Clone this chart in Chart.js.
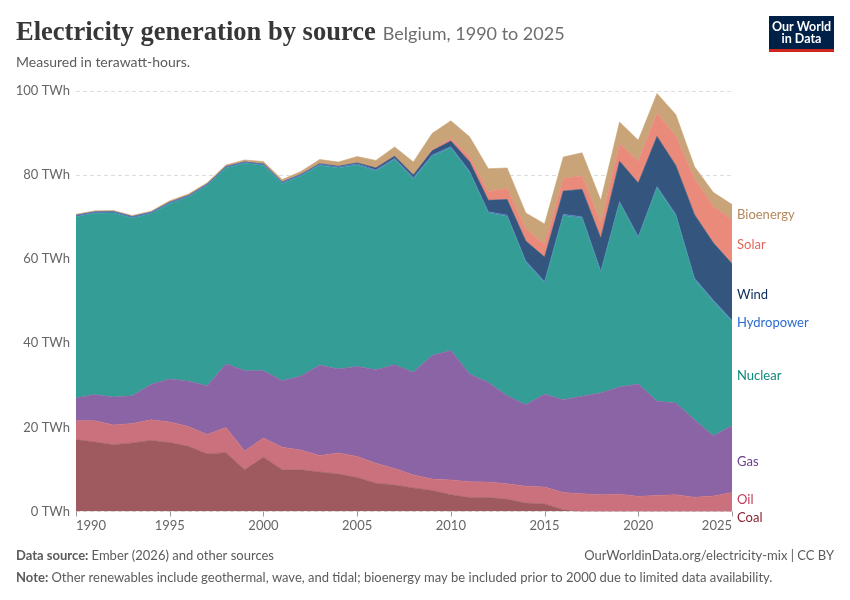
<!DOCTYPE html>
<html><head><meta charset="utf-8">
<script src="https://cdn.jsdelivr.net/npm/chart.js@4.4.1/dist/chart.umd.min.js"></script>
<style>html,body{margin:0;padding:0;background:#fff;}</style>
</head><body>
<canvas id="c" width="850" height="600"></canvas>
<script>
const years = [1990,1991,1992,1993,1994,1995,1996,1997,1998,1999,2000,2001,2002,2003,2004,2005,2006,2007,2008,2009,2010,2011,2012,2013,2014,2015,2016,2017,2018,2019,2020,2021,2022,2023,2024,2025];
const coal = [17.1,16.5,15.9,16.3,16.9,16.4,15.5,13.7,14.0,9.9, 12.9,9.9,9.9,9.4,8.9,8.1,6.7,6.3,5.6,5.0, 4.0,3.3,3.3,2.9,2.0,1.8,0.4,0,0,0, 0,0,0,0,0,0];
const oil = [4.5,5.1,4.7,4.6,4.9,4.9,4.7,4.6,6.0,4.5, 4.6,5.4,4.7,3.9,5.0,5.0,4.8,3.9,3.1,2.7, 3.5,3.8,3.7,3.7,4.0,4.0,4.1,4.2,4.0,4.1, 3.6,3.8,4.0,3.4,3.7,4.5];
const gas = [5.4,6.2,6.6,6.6,8.4,10.2,10.8,11.6,15.1,19.1, 16.0,15.8,17.6,21.5,20.0,21.4,22.2,24.7,24.4,29.4, 30.8,25.6,23.7,20.9,19.4,22.1,22.1,23.2,24.2,25.5, 26.7,22.4,21.8,18.4,14.3,15.9];
const nuclear = [43.1,43.1,43.8,42.3,40.6,41.7,43.8,47.6,46.6,49.3, 48.8,46.9,47.6,47.5,47.8,47.9,47.3,48.8,46.0,47.4, 48.2,47.9,40.3,42.7,33.9,26.5,43.8,42.4,28.7,43.8, 34.8,50.8,44.6,33.4,32.0,24.8];
const hydropower = [0.3,0.3,0.3,0.3,0.3,0.3,0.3,0.3,0.3,0.3, 0.3,0.3,0.3,0.3,0.3,0.3,0.3,0.3,0.3,0.3, 0.3,0.3,0.3,0.3,0.3,0.3,0.3,0.3,0.3,0.3, 0.3,0.3,0.3,0.3,0.3,0.3];
const wind = [0,0,0,0,0,0,0,0,0,0, 0.02,0.03,0.05,0.1,0.1,0.2,0.4,0.5,0.6,1.0, 1.3,2.3,2.7,3.7,4.7,5.8,5.5,6.5,7.8,9.6, 12.7,11.9,11.6,15.1,13.6,13.4];
const solar = [0,0,0,0,0,0,0,0,0,0, 0,0,0,0,0,0,0,0,0.04,0.2, 0.6,1.2,2.1,2.6,2.9,3.0,3.0,3.2,3.6,4.1, 5.2,5.5,7.0,8.5,8.7,10.4];
const bioenergy = [0.3,0.3,0.3,0.3,0.3,0.4,0.4,0.4,0.4,0.5, 0.6,0.6,0.7,1.0,1.0,1.5,1.8,2.2,3.1,3.9, 4.2,4.7,5.4,4.9,3.8,4.9,5.1,5.5,5.4,5.2, 5.0,4.7,5.1,2.9,3.3,3.7];
const yTicks = [0,20,40,60,80,100];
const xTicks = [1990,1995,2000,2005,2010,2015,2020,2025];

const series = [
  {name:'Coal', values:coal, fill:'#9e5a5f', text:'#8a2232'},
  {name:'Oil', values:oil, fill:'#cb717e', text:'#c23d5a'},
  {name:'Gas', values:gas, fill:'#8a64a5', text:'#6b3d8e'},
  {name:'Nuclear', values:nuclear, fill:'#349e96', text:'#0f8a7d'},
  {name:'Hydropower', values:hydropower, fill:'#4f77c2', text:'#2c6bcf'},
  {name:'Wind', values:wind, fill:'#33557e', text:'#0b2b58'},
  {name:'Solar', values:solar, fill:'#ea8a7a', text:'#e5675a'},
  {name:'Bioenergy', values:bioenergy, fill:'#c9a478', text:'#b4875b'}
];

const FONT = 'Lato, "Noto Sans", sans-serif';

const decor = {
  id:'decor',
  beforeDraw(chart){
    const c = chart.ctx;
    c.save(); c.fillStyle = '#fff'; c.fillRect(0,0,chart.width,chart.height); c.restore();
  },
  afterDraw(chart){
    const c = chart.ctx, ca = chart.chartArea;
    const xs = chart.scales.x, ys = chart.scales.y;
    c.save();
    // Title
    const title = 'Electricity generation by source';
    c.font = 'bold 27px "Liberation Serif", serif';
    let w = c.measureText(title).width;
    const ts = 27 * 360 / w;
    c.font = 'bold ' + ts + 'px "Liberation Serif", serif';
    c.fillStyle = '#373737'; c.textBaseline = 'alphabetic'; c.textAlign = 'left';
    c.fillText(title, 16, 40);
    const tw = c.measureText(title).width;
    const sub = 'Belgium, 1990 to 2025';
    c.font = '17px ' + FONT;
    const sw = c.measureText(sub).width;
    c.font = (17 * 182 / sw) + 'px ' + FONT;
    c.fillStyle = '#6e6e6e';
    c.fillText(sub, 16 + tw + 7, 40);
    c.font = '14px ' + FONT; c.fillStyle = '#5b5b5b';
    c.fillText('Measured in terawatt-hours.', 16, 66.5);
    // Logo
    c.fillStyle = '#002147'; c.fillRect(769,16,65,36);
    c.fillStyle = '#ce261e'; c.fillRect(769,49,65,3);
    c.fillStyle = '#fff'; c.textAlign = 'center';
    c.font = 'bold 12.5px ' + FONT;
    c.fillText('Our World', 801.5, 31);
    c.fillText('in Data', 801.5, 43);
    // X ticks & labels
    c.font = '13px ' + FONT; c.fillStyle = '#666';
    c.strokeStyle = '#999'; c.lineWidth = 1;
    xTicks.forEach(t => {
      const px = xs.getPixelForValue(t);
      c.beginPath(); c.moveTo(Math.round(px)+0.5, ca.bottom); c.lineTo(Math.round(px)+0.5, ca.bottom+5); c.stroke();
      const lw = c.measureText(String(t)).width;
      let left = px - lw/2;
      if (left < ca.left) left = ca.left;
      if (left + lw > ca.right) left = ca.right - lw;
      c.textAlign = 'left';
      c.fillText(String(t), left, 529.5);
    });
    // Right-side labels
    const last = years.length - 1;
    let cum = 0;
    const labs = series.map(s => {
      const v = s.values[last];
      const mid = cum + v/2; cum += v;
      return {s, y: ys.getPixelForValue(mid) + 2.5};
    });
    const gap = 18;
    for (let it=0; it<50; it++){
      labs.sort((a,b)=>a.y-b.y);
      let moved = false;
      for (let i=0;i<labs.length-1;i++){
        const d = labs[i+1].y - labs[i].y;
        if (d < gap){ const p=(gap-d)/2; labs[i].y -= p; labs[i+1].y += p; moved = true; }
      }
      if(!moved) break;
    }
    c.font = '13px ' + FONT; c.textAlign = 'left'; c.textBaseline = 'middle';
    labs.forEach(l => { c.fillStyle = l.s.text; c.fillText(l.s.name, ca.right + 5, l.y); });
    // Footer
    c.textBaseline = 'alphabetic';
    c.fillStyle = '#5b5b5b';
    c.font = 'bold 13px ' + FONT;
    c.fillText('Data source:', 16, 560);
    let bw = c.measureText('Data source: ').width;
    c.font = '13px ' + FONT;
    c.fillText('Ember (2026) and other sources', 16 + bw, 560);
    c.textAlign = 'right';
    c.fillText('OurWorldinData.org/electricity-mix | CC BY', 834, 560);
    c.textAlign = 'left';
    c.font = 'bold 13px ' + FONT;
    c.fillText('Note:', 16, 582);
    bw = c.measureText('Note: ').width;
    c.font = '13px ' + FONT;
    c.fillText('Other renewables include geothermal, wave, and tidal; bioenergy may be included prior to 2000 due to limited data availability.', 16 + bw, 582);
    c.restore();
  }
};

new Chart(document.getElementById('c'), {
  type: 'line',
  data: {
    datasets: series.map((s, i) => ({
      label: s.name,
      data: years.map((yr, j) => ({x: yr, y: s.values[j]})),
      backgroundColor: s.fill,
      borderColor: s.fill,
      borderWidth: 0.6,
      pointRadius: 0,
      tension: 0,
      fill: i === 0 ? 'origin' : '-1'
    }))
  },
  options: {
    responsive: false,
    animation: false,
    devicePixelRatio: 1,
    layout: {padding: {left: 0, right: 118, top: 91, bottom: 58.5}},
    plugins: {legend: {display: false}, tooltip: {enabled: false}, title: {display: false}},
    scales: {
      x: {
        type: 'linear', min: 1990, max: 2025,
        ticks: {display: false, stepSize: 5},
        grid: {display: false}, border: {display: false},
        afterFit: s => { s.height = 30; }
      },
      y: {
        stacked: true, min: 0, max: 100,
        afterBuildTicks: s => { s.ticks = yTicks.map(v => ({value: v})); },
        ticks: {callback: v => v + ' TWh', font: {family: FONT, size: 13}, color: '#666', padding: 6},
        grid: {color: '#dddddd', drawTicks: false, lineWidth: 1},
        border: {display: false, dash: [4, 3]},
        afterFit: s => { s.width = 76; }
      }
    }
  },
  plugins: [decor]
});
</script>
</body></html>
